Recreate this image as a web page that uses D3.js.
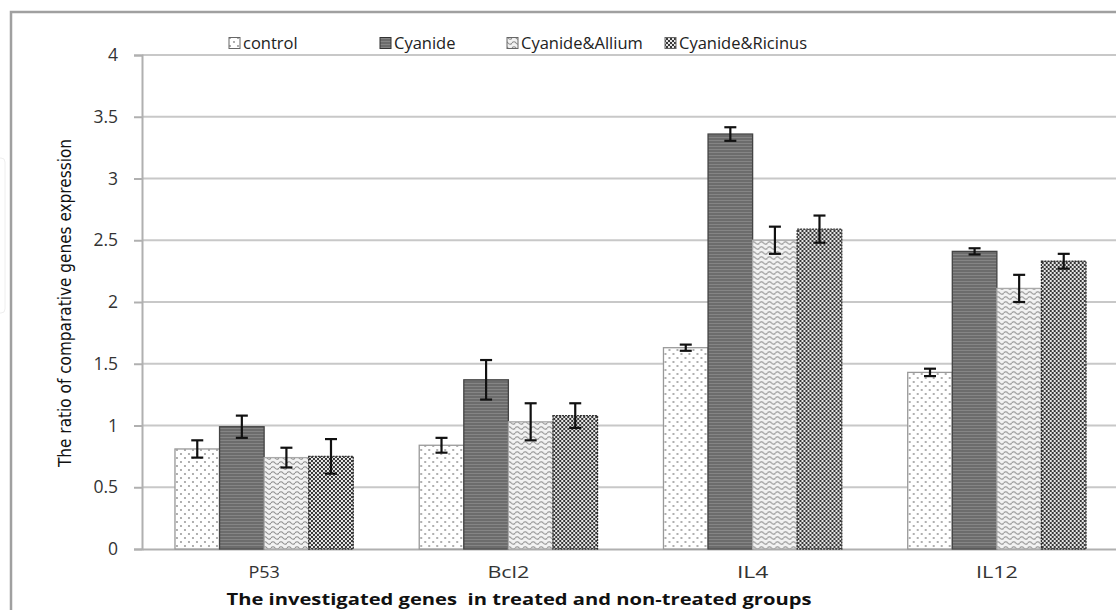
<!DOCTYPE html>
<html><head><meta charset="utf-8">
<script src="https://cdn.jsdelivr.net/npm/d3@7"></script>
<style>body{margin:0;background:#fff;} svg{display:block;}</style>
</head><body>
<svg id="c" width="1116" height="610"></svg>
<script>
const categories = ["P53", "Bcl2", "IL4", "IL12"];
const seriesNames = ["control", "Cyanide", "Cyanide&Allium", "Cyanide&Ricinus"];
const controlVals = [0.81, 0.84, 1.63, 1.43];
const cyanideVals = [0.99, 1.37, 3.36, 2.41];
const alliumVals = [0.74, 1.03, 2.50, 2.11];
const ricinusVals = [0.75, 1.08, 2.59, 2.33];
const controlErr = [0.07, 0.06, 0.025, 0.03];
const cyanideErr = [0.09, 0.16, 0.055, 0.025];
const alliumErr = [0.08, 0.15, 0.11, 0.11];
const ricinusErr = [0.14, 0.10, 0.11, 0.06];
const yTicks = [0, 0.5, 1, 1.5, 2, 2.5, 3, 3.5, 4];

const values = [controlVals, cyanideVals, alliumVals, ricinusVals];
const errs = [controlErr, cyanideErr, alliumErr, ricinusErr];

const svg = d3.select("#c");
const defs = svg.append("defs");
// control: dots
let p = defs.append("pattern").attr("id","p0").attr("patternUnits","userSpaceOnUse").attr("width",8).attr("height",8);
p.append("rect").attr("width",8).attr("height",8).attr("fill","#fff");
p.append("circle").attr("cx",2).attr("cy",2).attr("r",0.9).attr("fill","#8a8a8a");
p.append("circle").attr("cx",6).attr("cy",6).attr("r",0.9).attr("fill","#8a8a8a");
// cyanide: dark with horizontal stripes
p = defs.append("pattern").attr("id","p1").attr("patternUnits","userSpaceOnUse").attr("width",4).attr("height",3);
p.append("rect").attr("width",4).attr("height",3).attr("fill","#6c6c6c");
p.append("rect").attr("y",2).attr("width",4).attr("height",1).attr("fill","#858585");
// allium: waves
p = defs.append("pattern").attr("id","p2").attr("patternUnits","userSpaceOnUse").attr("width",8).attr("height",5);
p.append("rect").attr("width",8).attr("height",5).attr("fill","#f2f2f2");
p.append("path").attr("d","M0,3 Q2,0.5 4,3 T8,3").attr("fill","none").attr("stroke","#8e8e8e").attr("stroke-width",1.2);
// ricinus: checker
p = defs.append("pattern").attr("id","p3").attr("patternUnits","userSpaceOnUse").attr("width",4).attr("height",4);
p.append("rect").attr("width",4).attr("height",4).attr("fill","#e6e6e6");
p.append("rect").attr("width",2).attr("height",2).attr("fill","#383838");
p.append("rect").attr("x",2).attr("y",2).attr("width",2).attr("height",2).attr("fill","#383838");

const fills = ["url(#p0)","url(#p1)","url(#p2)","url(#p3)"];
const strokes = ["#999","#444","#aaa","#333"];

// outer border
svg.append("path").attr("d","M11,620 L11,12 L1130,12").attr("fill","none").attr("stroke","#a0a0a0").attr("stroke-width",2.5);
svg.append("rect").attr("x",-6).attr("y",158).attr("width",11).attr("height",155).attr("rx",4)
  .attr("fill","none").attr("stroke","#eee").attr("stroke-width",1);

const y = d3.scaleLinear().domain([0,4]).range([549,55]);
const x0 = d3.scaleBand().domain(categories).range([142,1119]).paddingInner(0.27).paddingOuter(0.135);
const x1 = d3.scaleBand().domain(seriesNames).range([0, x0.bandwidth()]);

// gridlines
svg.append("g").selectAll("line").data(yTicks.filter(d=>d>0)).join("line")
  .attr("x1",142).attr("x2",1120).attr("y1",d=>y(d)).attr("y2",d=>y(d))
  .attr("stroke","#c8c8c8").attr("stroke-width",2);

const FONT = "'Open Sans', sans-serif";
// y axis
const yAxis = svg.append("g").attr("transform","translate(142,0)")
  .call(d3.axisLeft(y).tickValues(yTicks).tickSize(8).tickPadding(16).tickFormat(d=>String(d)));
yAxis.select(".domain").attr("stroke","#b0b0b0").attr("stroke-width",2);
yAxis.selectAll(".tick line").attr("stroke","#b0b0b0").attr("stroke-width",2);
yAxis.selectAll("text").attr("font-family",FONT).attr("font-size",17.5).attr("fill","#333");

// x axis baseline
const xAxis = svg.append("g").attr("transform","translate(0,549)")
  .call(d3.axisBottom(x0).tickSize(0).tickPadding(17));
xAxis.select(".domain").attr("stroke","#b0b0b0").attr("stroke-width",2);
xAxis.selectAll("text").attr("font-family",FONT).attr("font-size",16.5).attr("fill","#333")
  .attr("textLength", d => d.length * 10.5).attr("lengthAdjust","spacingAndGlyphs");

// bars
const gGroups = svg.append("g").selectAll("g").data(categories).join("g")
  .attr("transform", d=>`translate(${x0(d)},0)`);
seriesNames.forEach((s, si) => {
  gGroups.append("rect")
    .attr("x", x1(s)).attr("width", x1.bandwidth())
    .attr("y", (d,i)=>y(values[si][i])).attr("height",(d,i)=>y(0)-y(values[si][i]))
    .attr("fill", fills[si]).attr("stroke", strokes[si]).attr("stroke-width",1.3)
    .attr("stroke-dasharray", si===3 ? "2,1" : null);
});
// error bars
seriesNames.forEach((s, si) => {
  const cx = x1(s) + x1.bandwidth()/2;
  const eg = gGroups.append("g").attr("stroke","#111").attr("stroke-width",2.2);
  eg.append("line").attr("x1",cx).attr("x2",cx)
    .attr("y1",(d,i)=>y(values[si][i]+errs[si][i])).attr("y2",(d,i)=>y(values[si][i]-errs[si][i]));
  eg.append("line").attr("x1",cx-6).attr("x2",cx+6)
    .attr("y1",(d,i)=>y(values[si][i]+errs[si][i])).attr("y2",(d,i)=>y(values[si][i]+errs[si][i]));
  eg.append("line").attr("x1",cx-6).attr("x2",cx+6)
    .attr("y1",(d,i)=>y(values[si][i]-errs[si][i])).attr("y2",(d,i)=>y(values[si][i]-errs[si][i]));
});

// legend
const legX = [229, 380, 507, 665];
const leg = svg.append("g");
seriesNames.forEach((s, si) => {
  leg.append("rect").attr("x",legX[si]).attr("y",37.5).attr("width",11).attr("height",11)
    .attr("fill",fills[si]).attr("stroke", si===1 ? "#333" : "#666").attr("stroke-width",1);
  leg.append("text").attr("x",legX[si]+14).attr("y",49).text(s)
    .attr("font-family",FONT).attr("font-size",16.5).attr("fill","#222");
});

// axis titles
svg.append("text").attr("transform","translate(71,303) rotate(-90)").attr("text-anchor","middle")
  .attr("font-family","'Liberation Sans Narrow','DejaVu Sans Condensed',sans-serif").attr("font-size",17.5)
  .attr("textLength",328).attr("lengthAdjust","spacingAndGlyphs")
  .attr("fill","#111").text("The ratio of comparative genes expression");
svg.append("text").attr("x",519).attr("y",605).attr("text-anchor","middle")
  .attr("font-family",FONT).attr("font-weight","bold").attr("font-size",16.5)
  .attr("textLength",585).attr("lengthAdjust","spacingAndGlyphs")
  .attr("fill","#111").attr("xml:space","preserve").style("white-space","pre")
  .text("The investigated genes  in treated and non-treated groups");
</script>
</body></html>
